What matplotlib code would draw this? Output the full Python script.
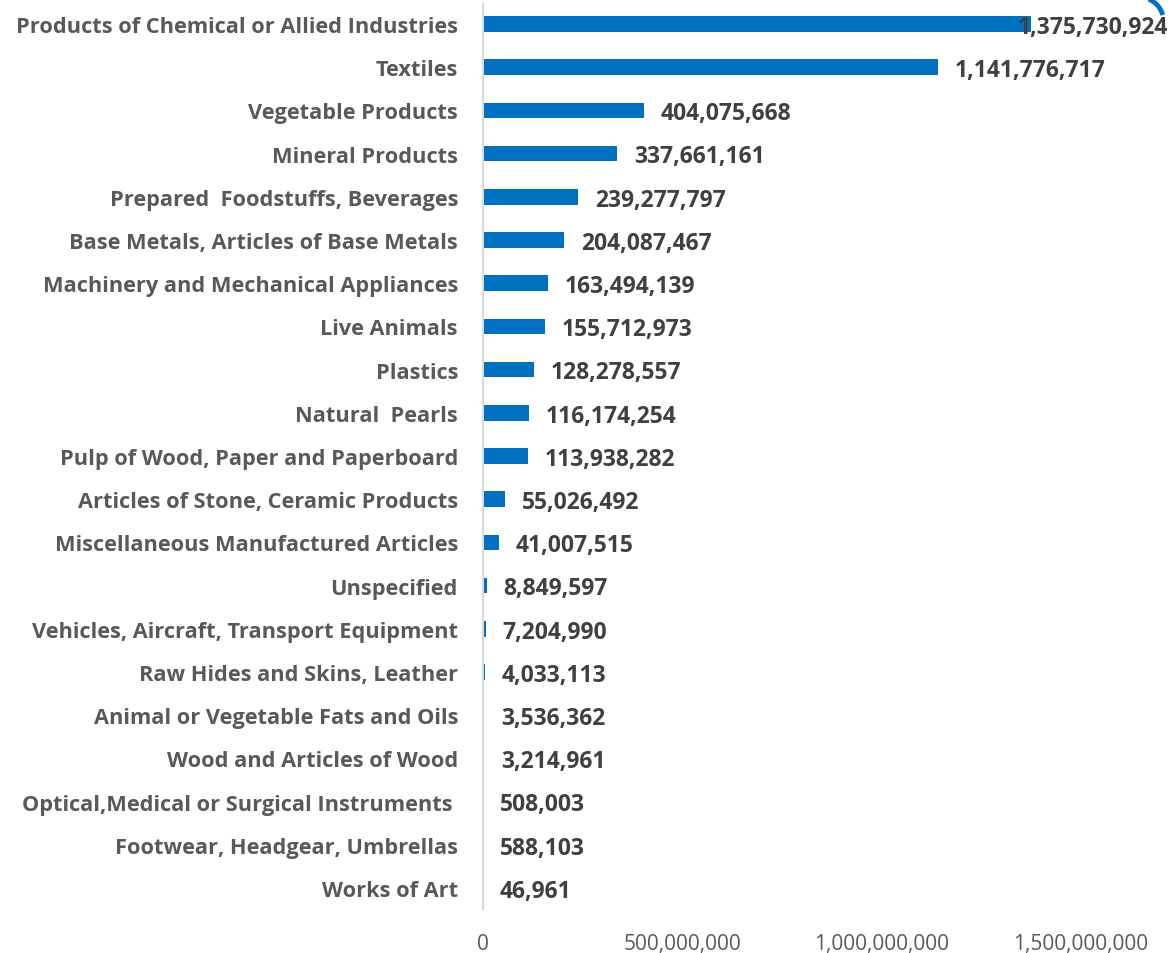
import numpy as np
import matplotlib.pyplot as plt
from matplotlib.ticker import FuncFormatter
from matplotlib.patches import Arc

plt.rcParams['font.family'] = ['Open Sans', 'DejaVu Sans']

categories = ['Products of Chemical or Allied Industries', 'Textiles', 'Vegetable Products',
              'Mineral Products', 'Prepared  Foodstuffs, Beverages',
              'Base Metals, Articles of Base Metals', 'Machinery and Mechanical Appliances',
              'Live Animals', 'Plastics', 'Natural  Pearls', 'Pulp of Wood, Paper and Paperboard',
              'Articles of Stone, Ceramic Products', 'Miscellaneous Manufactured Articles',
              'Unspecified', 'Vehicles, Aircraft, Transport Equipment',
              'Raw Hides and Skins, Leather', 'Animal or Vegetable Fats and Oils',
              'Wood and Articles of Wood', 'Optical,Medical or Surgical Instruments ',
              'Footwear, Headgear, Umbrellas', 'Works of Art']
values = [1375730924, 1141776717, 404075668, 337661161, 239277797, 204087467, 163494139,
          155712973, 128278557, 116174254, 113938282, 55026492, 41007515, 8849597, 7204990,
          4033113, 3536362, 3214961, 508003, 588103, 46961]
xticks = [0, 500000000, 1000000000, 1500000000]

W, H = 1176, 954
fig = plt.figure(figsize=(W/100, H/100), dpi=100)
ax = fig.add_axes([483/W, 1 - 910/H, (1168-483)/W, (910-5)/H])

y = np.arange(len(categories))
ax.barh(y, values, height=0.36, color='#0070C0')
ax.set_ylim(20.487, -0.463)
xmax = 1.72e9
ax.set_xlim(0, xmax)

# data labels, the widest one is pulled back inside the plot area
for yi, v in zip(y, values):
    if v > 1.3e9:
        ax.annotate(f'{v:,}', (xmax, yi), xytext=(0, -2), textcoords='offset points',
                    ha='right', va='center', fontsize=16.5, fontweight='bold', color='#404040')
    else:
        ax.annotate(f'{v:,}', (v, yi), xytext=(12, -2), textcoords='offset points',
                    ha='left', va='center', fontsize=16.5, fontweight='bold', color='#404040')

ax.set_yticks(y)
ax.set_yticklabels(categories, fontsize=15.7, fontweight='bold', color='#595959')
ax.set_xticks(xticks)
ax.xaxis.set_major_formatter(FuncFormatter(lambda x, p: f'{int(x):,}'))
ax.tick_params(axis='x', labelsize=15, colors='#595959', length=0, pad=17)
ax.tick_params(axis='y', length=0, pad=18)

for s in ['top', 'right', 'bottom']:
    ax.spines[s].set_visible(False)
ax.spines['left'].set_color('#D9D9D9')
ax.spines['left'].set_linewidth(1.5)

# small blue mark in the top right corner
fig.add_artist(Arc((1140/W, 1 - 22/H), 47/W, 47/H, theta1=18, theta2=72,
                   color='#0070C0', lw=3.5, transform=fig.transFigure))

fig.savefig('out.png', dpi=100)
